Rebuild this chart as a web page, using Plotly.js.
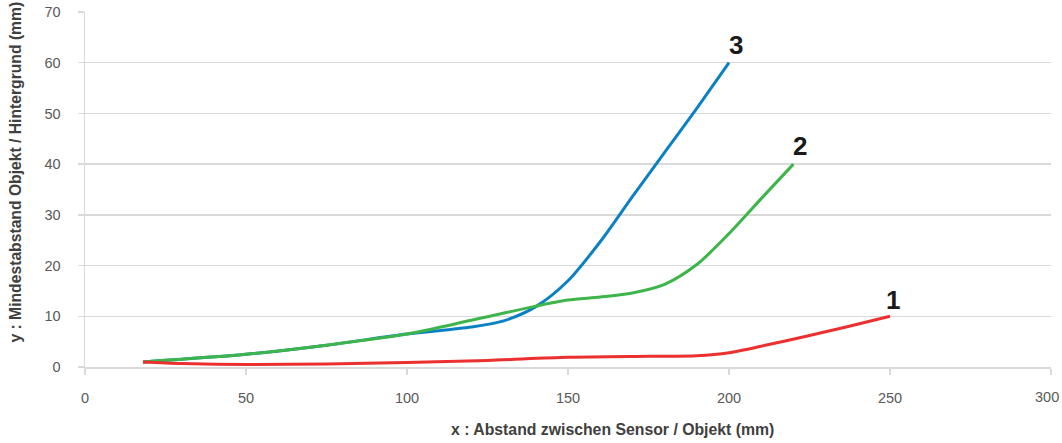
<!DOCTYPE html>
<html>
<head>
<meta charset="utf-8">
<script src="https://cdn.plot.ly/plotly-3.0.1.min.js"></script>
<style>html,body{margin:0;padding:0;background:#fff}#chart{width:1062px;height:443px}</style>
</head>
<body>
<div id="chart"></div>
<script>
// Curve 1 (red)
const x1 = [18, 30, 50, 75, 100, 125, 150, 175, 190, 200, 212, 225, 237, 250];
const y1 = [1, 0.7, 0.5, 0.6, 0.9, 1.3, 1.9, 2.1, 2.2, 2.8, 4.4, 6.2, 8, 10];
// Curve 2 (green)
const x2 = [18, 50, 75, 100, 120, 140, 150, 160, 170, 180, 190, 200, 210, 220];
const y2 = [1, 2.5, 4.3, 6.5, 9.2, 12, 13.2, 13.8, 14.6, 16.3, 20.2, 26.3, 33.2, 40];
// Curve 3 (blue)
const x3 = [18, 50, 75, 100, 120, 130, 140, 150, 160, 170, 180, 190, 200];
const y3 = [1, 2.5, 4.3, 6.5, 7.9, 9.1, 11.9, 17, 24.7, 33.6, 42.3, 51, 60];
const curveLabels = ["1", "2", "3"];
const xTicks = [0, 50, 100, 150, 200, 250, 300];
const yTicks = [0, 10, 20, 30, 40, 50, 60, 70];
const xTitle = "x : Abstand zwischen Sensor / Objekt (mm)";
const yTitle = "y : Mindestabstand Objekt / Hintergrund (mm)";

const FONT = "Liberation Sans, Arial, sans-serif";
const colors = ["#ec2f2f", "#3db54a", "#0b80c3"];
const xs = [x1, x2, x3], ys = [y1, y2, y3];
const traces = [];
[2, 1, 0].forEach(i => {
  traces.push({
    x: xs[i], y: ys[i], type: "scatter", mode: "lines",
    line: {color: colors[i], width: 3, shape: "spline", smoothing: 0.8},
    hoverinfo: "skip", showlegend: false
  });
});
const shifts = [[3, -1], [7, 1], [7, 1]];
const annotations = [0, 1, 2].map(i => ({
  x: xs[i][xs[i].length - 1], y: ys[i][ys[i].length - 1],
  xref: "x", yref: "y", text: "<b>" + curveLabels[i] + "</b>", showarrow: false,
  xanchor: "center", yanchor: "bottom", xshift: shifts[i][0], yshift: shifts[i][1],
  font: {family: FONT, size: 26, color: "#1a1a1a"}
}));
annotations.push({
  xref: "paper", yref: "paper", x: 0.5465, y: -0.176, xanchor: "center", yanchor: "middle",
  text: "<b>" + xTitle + "</b>", showarrow: false,
  font: {family: FONT, size: 15.8, color: "#404040"}
});
annotations.push({
  xref: "paper", yref: "paper", x: -0.072, y: 0.549, xanchor: "center", yanchor: "middle",
  text: "<b>" + yTitle + "</b>", showarrow: false, textangle: -90,
  font: {family: FONT, size: 15.7, color: "#404040"}
});
// last x tick label sits against the right edge (would be clipped otherwise)
const lastX = xTicks[xTicks.length - 1];
annotations.push({
  xref: "x", yref: "paper", x: lastX, y: 0, xanchor: "right", yanchor: "middle",
  xshift: 10, yshift: -29.5, text: String(lastX), showarrow: false,
  font: {family: FONT, size: 14.5, color: "#595959"}
});

const layout = {
  width: 1062, height: 443,
  margin: {l: 84.5, r: 10.5, t: 11.5, b: 75.5},
  paper_bgcolor: "#fff", plot_bgcolor: "#fff",
  font: {family: FONT, size: 14.5, color: "#595959"},
  xaxis: {
    range: [0, 300], tickvals: xTicks,
    ticktext: xTicks.map((v, k) => k === xTicks.length - 1 ? "" : String(v)),
    showgrid: false, zeroline: false, showline: true, linecolor: "#d9d9d9", linewidth: 1.5,
    ticks: "outside", ticklen: 6, tickcolor: "#d9d9d9", tickwidth: 1.5,
    ticklabelstandoff: 11,
    tickfont: {size: 14.5, color: "#595959"}
  },
  yaxis: {
    range: [0, 70], tickvals: yTicks, ticktext: yTicks.map(String),
    showgrid: true, gridcolor: "#d9d9d9", gridwidth: 1.5, zeroline: false,
    showline: true, linecolor: "#d9d9d9", linewidth: 1.5,
    ticks: "outside", ticklen: 6, tickcolor: "#d9d9d9", tickwidth: 1.5,
    ticklabelstandoff: 14,
    tickfont: {size: 14.5, color: "#595959"}
  },
  annotations: annotations
};
Plotly.newPlot("chart", traces, layout, {displayModeBar: false, staticPlot: true});
</script>
</body>
</html>
